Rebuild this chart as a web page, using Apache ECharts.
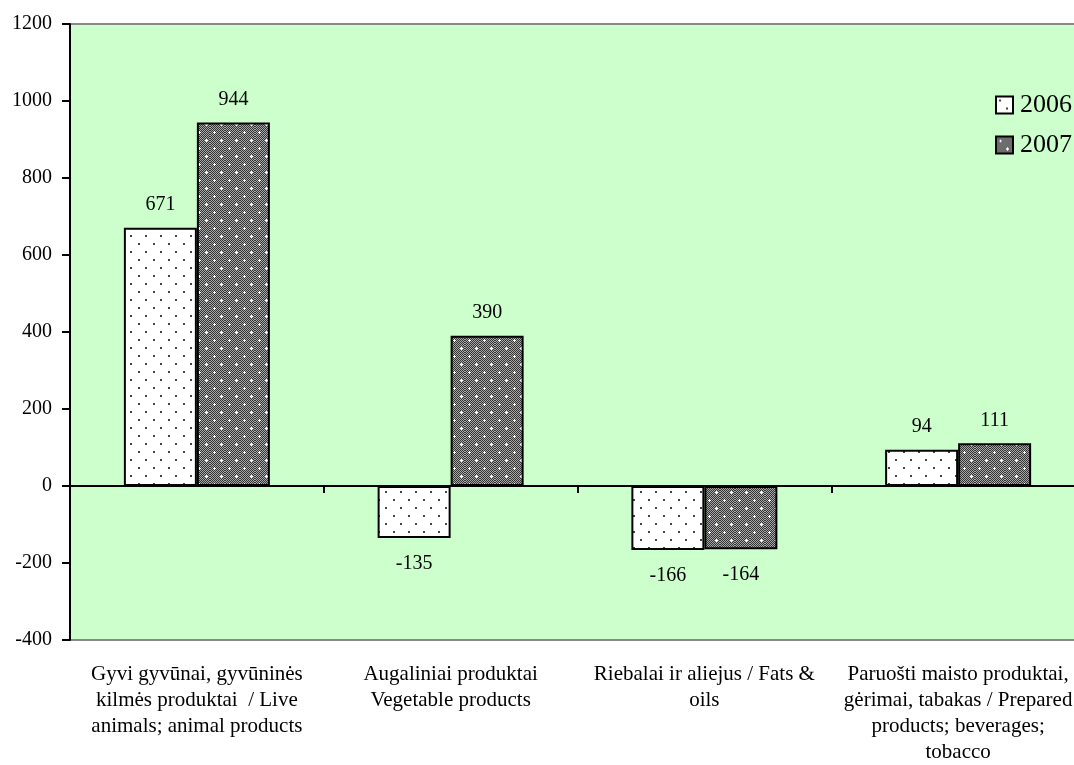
<!DOCTYPE html>
<html>
<head>
<meta charset="utf-8">
<script src="https://cdn.jsdelivr.net/npm/echarts@6/dist/echarts.min.js"></script>
<style>html,body{margin:0;padding:0;background:#fff;overflow:hidden;}#c{width:1100px;height:765px;}</style>
</head>
<body>
<div id="c"></div>
<script>
const categories = [
  "Gyvi gyvūnai, gyvūninės\nkilmės produktai  / Live\nanimals; animal products",
  "Augaliniai produktai\nVegetable products",
  "Riebalai ir aliejus / Fats &\noils",
  "Paruošti maisto produktai,\ngėrimai, tabakas / Prepared\nproducts; beverages;\ntobacco"
];
const values2006 = [671, -135, -166, 94];
const values2007 = [944, 390, -164, 111];
const seriesNames = ["2006", "2007"];

function dotPattern() {
  const c = document.createElement('canvas');
  c.width = 15; c.height = 16;
  const g = c.getContext('2d');
  g.fillStyle = '#ffffff'; g.fillRect(0, 0, 15, 16);
  g.fillStyle = '#444444';
  g.fillRect(3, 3, 2, 2);
  g.fillRect(10, 11, 2, 2);
  return c;
}
function darkPattern() {
  const c = document.createElement('canvas');
  c.width = 15; c.height = 16;
  const g = c.getContext('2d');
  for (let y = 0; y < 16; y++) {
    for (let x = 0; x < 15; x++) {
      g.fillStyle = ((x + y) % 2 === 0) ? '#333333' : '#a8a8a8';
      g.fillRect(x, y, 1, 1);
    }
  }
  g.fillStyle = '#ffffff';
  function plus(px, py) {
    g.fillRect(px - 1, py, 3, 1);
    g.fillRect(px, py - 1, 1, 3);
  }
  plus(4, 4);
  plus(11, 12);
  return c;
}

const chart = echarts.init(document.getElementById('c'));
const font = '"Liberation Serif", "Times New Roman", serif';
const labelStyle = {
  show: true, fontFamily: font, fontSize: 20, color: '#000', distance: 13, position: 'top'
};
function dataWithLabels(vals) {
  return vals.map(v => v < 0 ? { value: v, label: { position: 'bottom', distance: 16 } } : v);
}
chart.setOption({
  animation: false,
  textStyle: { fontFamily: font },
  grid: {
    left: 70, top: 24, width: 1015, height: 618,
    show: true, backgroundColor: '#ccffcc', borderColor: '#888888', borderWidth: 2
  },
  legend: {
    orient: 'vertical', left: 990, top: 87,
    itemWidth: 17, itemHeight: 17, itemGap: 14,
    icon: 'rect',
    textStyle: { fontFamily: font, fontSize: 26, color: '#000', padding: [0, 0, 0, 2] },
    data: seriesNames
  },
  xAxis: [
    {
      type: 'category', data: categories, position: 'bottom',
      axisLine: { onZero: true, lineStyle: { color: '#000', width: 2 } },
      axisTick: { show: true, length: 7, lineStyle: { color: '#000', width: 2 } },
      axisLabel: { show: false }
    },
    {
      type: 'category', data: categories, position: 'bottom',
      axisLine: { show: false, onZero: false }, axisTick: { show: false },
      axisLabel: {
        show: true, interval: 0, margin: 21, fontFamily: font, fontSize: 21,
        lineHeight: 26, color: '#000', align: 'center'
      }
    }
  ],
  yAxis: {
    type: 'value', min: -400, max: 1200, interval: 200,
    axisLine: { show: true, lineStyle: { color: '#000', width: 2 } },
    axisTick: { show: true, length: 8, lineStyle: { color: '#000', width: 2 } },
    axisLabel: { fontFamily: font, fontSize: 20, color: '#000', margin: 18, formatter: v => String(v) },
    splitLine: { show: false }
  },
  series: [
    {
      name: seriesNames[0], type: 'bar', data: dataWithLabels(values2006), barWidth: 73, barGap: '0%',
      itemStyle: { color: { image: dotPattern(), repeat: 'repeat' }, borderColor: '#000', borderWidth: 2 },
      label: labelStyle
    },
    {
      name: seriesNames[1], type: 'bar', data: dataWithLabels(values2007), barWidth: 73, barGap: '0%',
      itemStyle: { color: { image: darkPattern(), repeat: 'repeat' }, borderColor: '#000', borderWidth: 2 },
      label: labelStyle
    }
  ]
});
</script>
</body>
</html>
